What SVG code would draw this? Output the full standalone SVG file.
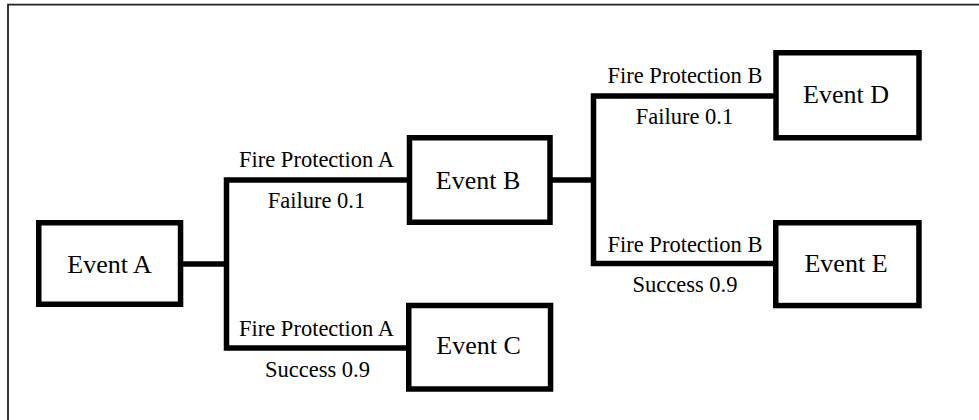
<svg xmlns="http://www.w3.org/2000/svg" width="979" height="420" viewBox="0 0 979 420">
<style>
.box{fill:#fff;stroke:#000;stroke-width:5.5}
.ev{font-family:"Liberation Serif","Times New Roman",serif;font-size:26px;fill:#000;text-anchor:middle}
.lb{font-family:"Liberation Serif","Times New Roman",serif;font-size:22.5px;fill:#000;text-anchor:middle}
.con{fill:none;stroke:#000;stroke-width:5.5;stroke-linecap:butt;stroke-linejoin:miter}
</style>
<rect x="0" y="0" width="979" height="420" fill="#fff"/>
<path d="M8 420 V4.7 H979" fill="none" stroke="#222" stroke-width="1.8"/>
<g id="connectors">
<path class="con" d="M182 264 H226.5"/>
<path class="con" d="M409 180 H226.5 V348 H409"/>
<path class="con" d="M552 180 H593.5"/>
<path class="con" d="M776 96 H593.5 V263.5 H776"/>
<text class="lb" x="316.5" y="166.5">Fire Protection A</text>
<text class="lb" x="316.5" y="207.5">Failure 0.1</text>
<text class="lb" x="316.5" y="336">Fire Protection A</text>
<text class="lb" x="317.5" y="376.5">Success 0.9</text>
<text class="lb" x="685" y="82.5">Fire Protection B</text>
<text class="lb" x="684.5" y="124">Failure 0.1</text>
<text class="lb" x="685" y="251.5">Fire Protection B</text>
<text class="lb" x="685" y="291.5">Success 0.9</text>
</g>
<g id="eventA"><rect class="box" x="38.75" y="222.75" width="141.8" height="81.5"/><text class="ev" x="109.5" y="273.3">Event A</text></g>
<g id="eventB"><rect class="box" x="409.5" y="137.75" width="140.5" height="84.5"/><text class="ev" x="478" y="189.3">Event B</text></g>
<g id="eventC"><rect class="box" x="408.75" y="305.5" width="141.8" height="83.5"/><text class="ev" x="478.5" y="354">Event C</text></g>
<g id="eventD"><rect class="box" x="776" y="52.75" width="143" height="85"/><text class="ev" x="846" y="103.3">Event D</text></g>
<g id="eventE"><rect class="box" x="775.75" y="222.75" width="143.2" height="82.8"/><text class="ev" x="846" y="271.7">Event E</text></g>
</svg>
